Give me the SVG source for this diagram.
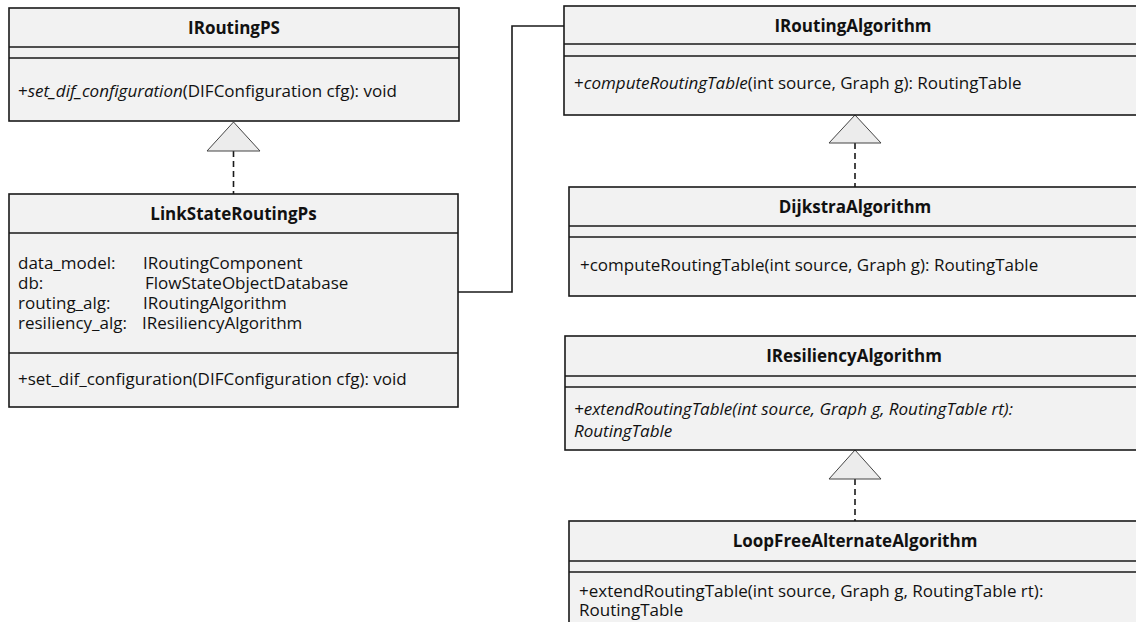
<svg xmlns="http://www.w3.org/2000/svg" width="1136" height="622" viewBox="0 0 1136 622">
  <defs>
    <style>
      .box { fill: #f2f2f2; stroke: #1a1a1a; stroke-width: 1.6; }
      .sep { stroke: #1a1a1a; stroke-width: 1.6; fill: none; }
      .title { font-family: "Open Sans", "Liberation Sans", sans-serif; font-size: 17px; font-weight: bold; fill: #111; text-anchor: middle; }
      .txt { font-family: "Open Sans", "Liberation Sans", sans-serif; font-size: 17px; fill: #111; }
      .it { font-style: italic; }
      .wire { stroke: #1a1a1a; stroke-width: 1.6; fill: none; }
      .dash { stroke: #1a1a1a; stroke-width: 1.6; fill: none; stroke-dasharray: 6 4; }
      .tri { fill: #ececec; stroke: #444; stroke-width: 1; }
    </style>
  </defs>
  <rect width="1136" height="622" fill="#ffffff"/>

  <!-- connectors: realizations and association -->
  <g id="connectors">
    <path class="dash" d="M233.5 151 V194"/>
    <polygon class="tri" points="233.5,122 207,151 260,151"/>
    <path class="dash" d="M855 143 V187"/>
    <polygon class="tri" points="855,115 829,143 881,143"/>
    <path class="dash" d="M855 479 V521"/>
    <polygon class="tri" points="855,450 829,479 881,479"/>
    <path class="wire" d="M458 292 H512 V26 H564"/>
  </g>

  <!-- interface IRoutingPS -->
  <g id="IRoutingPS">
    <rect class="box" x="9" y="8" width="450" height="113"/>
    <path class="sep" d="M9 47 H459 M9 58 H459"/>
    <text class="title" x="234" y="34">IRoutingPS</text>
    <text class="txt" x="18" y="97">+<tspan class="it">set_dif_configuration</tspan>(DIFConfiguration cfg): void</text>
  </g>

  <!-- class LinkStateRoutingPs -->
  <g id="LinkStateRoutingPs">
    <rect class="box" x="9" y="194" width="449" height="213"/>
    <path class="sep" d="M9 233 H458 M9 353 H458"/>
    <text class="title" x="233.5" y="220">LinkStateRoutingPs</text>
    <text class="txt" x="18" y="269"><tspan x="18" y="269">data_model:</tspan><tspan x="18" y="289">db:</tspan><tspan x="18" y="309">routing_alg:</tspan><tspan x="18" y="329">resiliency_alg:</tspan></text>
    <text class="txt" x="143" y="269"><tspan x="143" y="269">IRoutingComponent</tspan><tspan x="145" y="289">FlowStateObjectDatabase</tspan><tspan x="143" y="309">IRoutingAlgorithm</tspan><tspan x="142" y="329">IResiliencyAlgorithm</tspan></text>
    <text class="txt" x="18" y="385">+set_dif_configuration(DIFConfiguration cfg): void</text>
  </g>

  <!-- interface IRoutingAlgorithm -->
  <g id="IRoutingAlgorithm">
    <rect class="box" x="564" y="6" width="582" height="109"/>
    <path class="sep" d="M564 44 H1146 M564 56 H1146"/>
    <text class="title" x="853" y="32">IRoutingAlgorithm</text>
    <text class="txt" x="574" y="89">+<tspan class="it">computeRoutingTable</tspan>(int source, Graph g): RoutingTable</text>
  </g>

  <!-- class DijkstraAlgorithm -->
  <g id="DijkstraAlgorithm">
    <rect class="box" x="569" y="187" width="574" height="109"/>
    <path class="sep" d="M569 226 H1143 M569 237 H1143"/>
    <text class="title" x="855" y="213">DijkstraAlgorithm</text>
    <text class="txt" x="580" y="271">+computeRoutingTable(int source, Graph g): RoutingTable</text>
  </g>

  <!-- interface IResiliencyAlgorithm -->
  <g id="IResiliencyAlgorithm">
    <rect class="box" x="565" y="336" width="580" height="114"/>
    <path class="sep" d="M565 376 H1145 M565 387 H1145"/>
    <text class="title" x="854" y="362">IResiliencyAlgorithm</text>
    <text class="txt it"><tspan x="574" y="415">+extendRoutingTable(int source, Graph g, RoutingTable rt):</tspan><tspan x="574" y="437">RoutingTable</tspan></text>
  </g>

  <!-- class LoopFreeAlternateAlgorithm -->
  <g id="LoopFreeAlternateAlgorithm">
    <rect class="box" x="569" y="521" width="574" height="120"/>
    <path class="sep" d="M569 561 H1143 M569 572 H1143"/>
    <text class="title" x="855" y="547">LoopFreeAlternateAlgorithm</text>
    <text class="txt"><tspan x="579" y="597">+extendRoutingTable(int source, Graph g, RoutingTable rt):</tspan><tspan x="579" y="616">RoutingTable</tspan></text>
  </g>
</svg>
